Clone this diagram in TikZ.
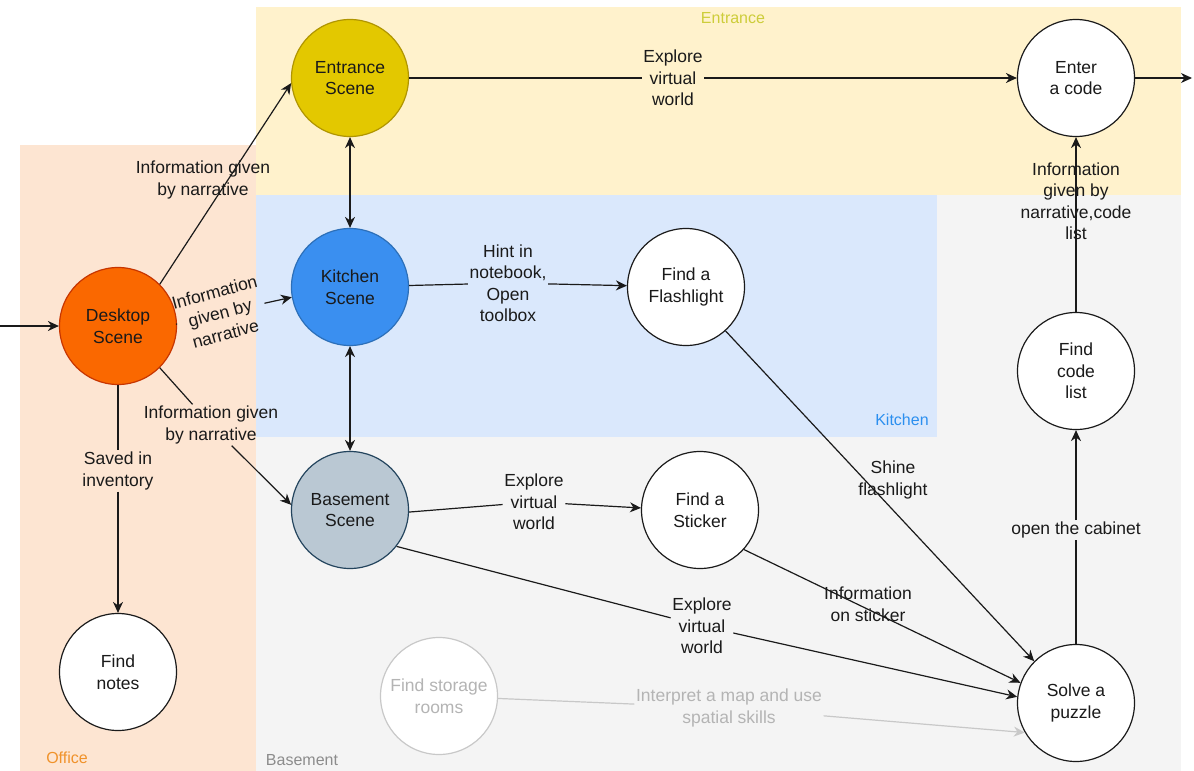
\documentclass[tikz,border=0pt]{standalone}
\usepackage{fontspec}
\setmainfont{Liberation Sans}
\usetikzlibrary{arrows.meta}
\definecolor{officebg}{HTML}{FDE5D2}
\definecolor{entrbg}{HTML}{FFF2CC}
\definecolor{kitbg}{HTML}{DAE8FC}
\definecolor{basebg}{HTML}{F4F4F4}
\definecolor{entfill}{HTML}{E3C800}
\definecolor{entdraw}{HTML}{B09500}
\definecolor{kitfill}{HTML}{3A8FF0}
\definecolor{kitdraw}{HTML}{2C6FB8}
\definecolor{deskfill}{HTML}{FA6800}
\definecolor{deskdraw}{HTML}{C73500}
\definecolor{basefill}{HTML}{BAC8D3}
\definecolor{basedraw}{HTML}{23445D}
\definecolor{entlabel}{HTML}{CDCD3A}
\definecolor{kitlabel}{HTML}{2B8FEF}
\definecolor{offlabel}{HTML}{F0922A}
\definecolor{baselabel}{HTML}{8C8C8C}
\definecolor{ghost}{HTML}{C8C8C8}
\definecolor{ghosttext}{HTML}{B4B4B4}
\definecolor{ink}{HTML}{1A1A1A}
\begin{document}
\begin{tikzpicture}[x=1pt,y=-1pt,
  every node/.style={font=\fontsize{17.5}{21.5}\selectfont, text=ink},
  state/.style={circle, draw=ink, line width=1.2pt, fill=white, minimum size=117pt, inner sep=0pt, align=center},
  lbl/.style={align=center, inner sep=1.5pt},
  conn/.style={line width=1.2pt, draw=ink},
  arr/.style={conn, -{Stealth[length=11pt,width=10pt,inset=3.5pt]}},
  darr/.style={conn, {Stealth[length=11pt,width=10pt,inset=3.5pt]}-{Stealth[length=11pt,width=10pt,inset=3.5pt]}},
  region/.style={font=\fontsize{16}{19}\selectfont}
]
\useasboundingbox (0,0) rectangle (1194,771);
\fill[white] (0,0) rectangle (1194,771);
% regions
\fill[officebg] (20,145) rectangle (256,771);
\fill[entrbg] (256,7) rectangle (1181,195);
\fill[basebg] (256,195) rectangle (1181,771);
\fill[kitbg] (256,195) rectangle (937,437);
\node[region, text=entlabel] (rent) at (733,18) {Entrance};
\node[region, text=kitlabel] (rkit) at (902,420) {Kitchen};
\node[region, text=offlabel] (roff) at (67,758) {Office};
\node[region, text=baselabel] (rbase) at (302,760) {Basement};

% nodes
\node[state, fill=entfill, draw=entdraw] (ent) at (350,78) {Entrance\\Scene};
\node[state] (code) at (1076,78) {Enter\\a code};
\node[state, fill=kitfill, draw=kitdraw] (kit) at (350,287) {Kitchen\\Scene};
\node[state] (flash) at (686,287) {Find a\\Flashlight};
\node[state, fill=deskfill, draw=deskdraw] (desk) at (118,326) {Desktop\\Scene};
\node[state, fill=basefill, draw=basedraw] (base) at (350,510) {Basement\\Scene};
\node[state] (sticker) at (700,510) {Find a\\Sticker};
\node[state] (list) at (1076,371) {Find\\code\\list};
\node[state] (notes) at (118,672) {Find\\notes};
\node[state, draw=ghost, text=ghosttext] (storage) at (439,696) {Find storage\\rooms};
\node[state] (solve) at (1076,703) {Solve a\\puzzle};

% labels
\node[lbl] (lkit) at (220,313) [rotate=15] {Information\\given by\\narrative};
\node[lbl] (lbase) at (211,425) {Information given\\by narrative};
\node[lbl] (lnotes) at (118,471) {Saved in\\inventory};
\node[lbl] (lexp1) at (673,78) {Explore\\virtual\\world};
\node[lbl] (lcab) at (1076,530) {open the cabinet};
\node[lbl] (lhint) at (508,283) {Hint in\\notebook,\\Open\\toolbox};
\node[lbl] (lexp2) at (534,502) {Explore\\virtual\\world};
\node[lbl] (lexp3) at (702,626) {Explore\\virtual\\world};
\node[lbl, text=ghosttext] (lmap) at (729,708) {Interpret a map and use\\spatial skills};

\coordinate (in) at (0,326);
\coordinate (out) at (1192,78);

% connectors
\draw[arr] (in) -- (desk);
\draw[arr] (desk.45) -- (ent.185);
\node[lbl] (lent) at (203,180) {Information given\\by narrative};
\draw[conn] (desk.2) -- (lkit);
\draw[arr] (lkit) -- (kit.190);
\draw[conn] (desk.-45) -- (lbase);
\draw[arr] (lbase) -- (base.175);
\draw[conn] (desk) -- (lnotes);
\draw[arr] (lnotes) -- (notes);
\draw[darr] (ent) -- (kit);
\draw[darr] (kit) -- (base);
\draw[conn] (ent) -- (lexp1);
\draw[arr] (lexp1) -- (code);
\draw[arr] (code) -- (out);
\draw[arr] (list) -- (code);
\node[lbl] (lcode) at (1076,201) {Information\\given by\\narrative,code\\list};
\draw[conn] (solve) -- (lcab);
\draw[arr] (lcab) -- (list);
\draw[conn] (kit) -- (lhint);
\draw[arr] (lhint) -- (flash);
\draw[arr] (flash.-48) -- (solve.135);
\node[lbl] (lshine) at (893,480) {Shine\\flashlight};
\draw[conn] (base.-2) -- (lexp2);
\draw[arr] (lexp2) -- (sticker.178);
\draw[arr] (sticker.-42) -- (solve.160);
\node[lbl] (lsticker) at (868,604) {Information\\on sticker};
\draw[conn] (base.-38) -- (lexp3);
\draw[arr] (lexp3) -- (solve.174);
\draw[conn, draw=ghost] (storage) -- (lmap);
\draw[arr, draw=ghost] (lmap) -- (solve.210);
\end{tikzpicture}
\end{document}
